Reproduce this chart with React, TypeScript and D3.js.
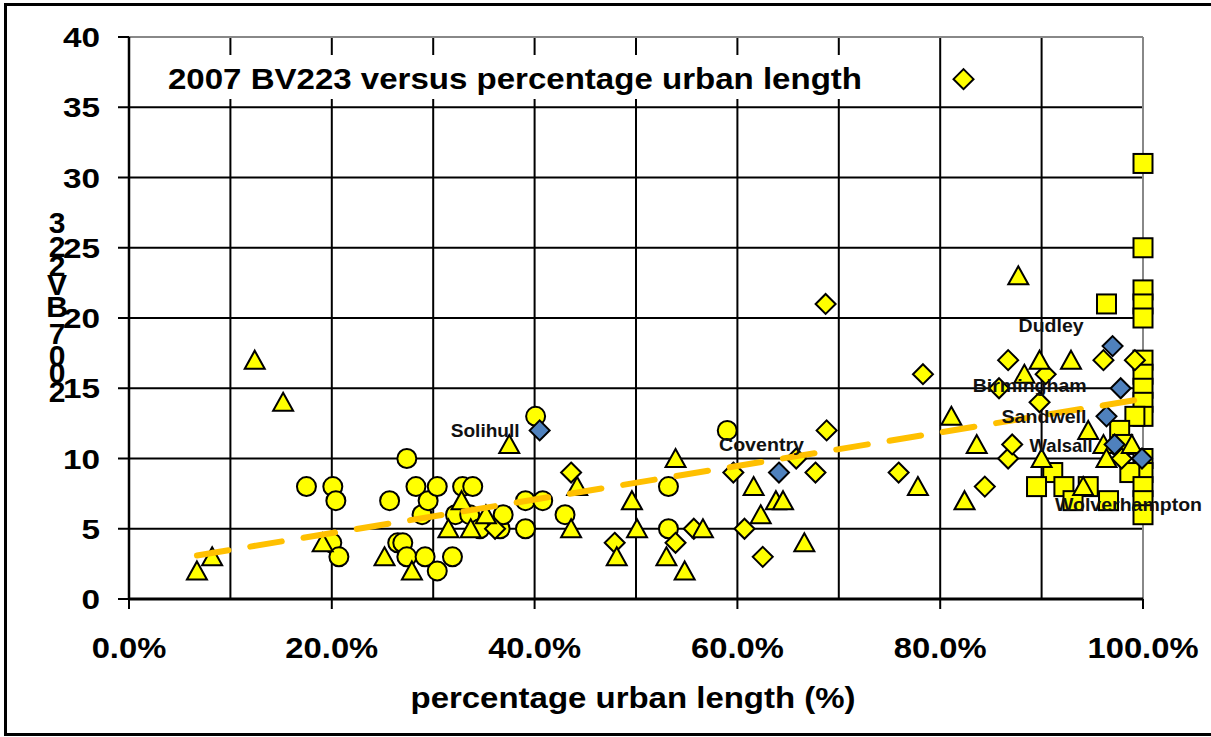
import React from "react";
import * as d3 from "d3";

// percentage urban length (%), BV223 value
const circles = [
  [17.5, 8], [20.1, 8], [20.4, 7], [20.0, 4], [20.7, 3], [25.7, 7], [26.5, 4], [27.0, 4],
  [27.4, 10], [27.4, 3], [28.3, 8], [28.9, 6], [29.2, 3], [29.5, 7], [30.4, 8], [30.4, 2],
  [31.9, 3], [32.2, 6], [32.9, 8], [33.6, 6], [33.9, 8], [34.6, 5], [36.6, 5], [36.9, 6],
  [39.1, 5], [39.1, 7], [40.1, 13], [40.8, 7], [43.0, 6], [53.2, 8], [53.2, 5], [59.0, 12],
];

const squares = [
  [100, 31], [100, 25], [100, 22], [100, 21], [100, 20], [96.4, 21], [100, 17], [100, 16],
  [100, 15], [100, 14], [100, 13], [99.2, 13], [97.7, 12], [98.0, 11], [100, 10], [100, 9],
  [98.7, 9], [91.1, 9], [89.5, 8], [92.2, 8], [94.6, 8], [100, 8], [93.1, 7], [96.6, 7],
  [100, 7], [100, 6],
];

const diamonds = [
  [36.1, 5], [43.6, 9], [47.9, 4], [53.9, 4], [55.7, 5], [59.6, 9], [60.7, 5], [62.5, 3],
  [65.8, 10], [67.7, 9], [68.8, 12], [68.7, 21], [75.9, 9], [78.3, 16], [82.3, 37], [84.4, 8],
  [85.8, 15], [86.7, 17], [86.7, 10], [87.1, 11], [89.8, 14], [90.4, 16], [96.1, 17], [97.9, 10],
  [99.2, 17],
];

const triangles = [
  [6.7, 2], [8.2, 3], [12.4, 17], [15.2, 14], [19.1, 4], [25.2, 3], [27.9, 2], [31.5, 5],
  [32.8, 7], [33.7, 5], [35.2, 6], [37.5, 11], [43.6, 5], [44.2, 8], [48.1, 3], [49.6, 7],
  [50.1, 5], [53.0, 3], [53.9, 10], [54.8, 2], [56.6, 5], [61.6, 8], [62.3, 6], [63.8, 7],
  [64.5, 7], [66.6, 4], [77.8, 8], [81.1, 13], [82.4, 7], [83.6, 11], [87.7, 23], [88.3, 16],
  [89.8, 17], [90.0, 10], [92.9, 17], [94.1, 8], [94.6, 12], [96.1, 11], [96.4, 10], [98.9, 11],
];

const councils = ["Solihull", "Coventry", "Dudley", "Birmingham", "Sandwell", "Walsall", "Wolverhampton"];
const councilX = [40.5, 64.1, 97.0, 97.8, 96.4, 97.2, 99.9];
const councilY = [12, 9, 18, 15, 13, 11, 10];

// trendline end points
const trendX = [6.7, 100];
const trendY = [3.1, 14.25];

const yTicks = [0, 5, 10, 15, 20, 25, 30, 35, 40];
const xGrid = [10, 20, 30, 40, 50, 60, 70, 80, 90];
const xTicks = [0, 20, 40, 60, 80, 100];
const xTickLabels = ["0.0%", "20.0%", "40.0%", "60.0%", "80.0%", "100.0%"];

// the axis title is drawn as stacked characters, as in the original
const yTitleChars = ["3", "2", "2", "V", "B", "7", "0", "0", "2"];
const yTitleBase = [233, 257, 276, 295, 317, 344, 366, 383, 402];

// label placement relative to the point: [dx, dy, width]
const labelPlace = [
  [-89, 7, 69], [-60, -22, 85], [-94, -14, 65], [-148, 4, 114],
  [-105, 7, 85], [-85, 8, 63], [-87, 52, 147],
];

const FONT = "'Liberation Sans', Arial, Helvetica, sans-serif";
const YELLOW = "#FFFF00";
const BLUE = "#4F81BD";

const x = d3.scaleLinear().domain([0, 100]).range([129, 1143]);
const y = d3.scaleLinear().domain([0, 40]).range([599, 37]);

const triPath = "M0,-9.5L10,8.5L-10,8.5Z";
const diaPath = "M0,-10L10,0L0,10L-10,0Z";

const SText = ({ tx, ty, sx = 1, size, anchor = "start", children }) => (
  <g transform={`translate(${tx},${ty}) scale(${sx},1)`}>
    <text textAnchor={anchor} fontSize={size} fontWeight="bold" fontFamily={FONT} fill="#000">
      {children}
    </text>
  </g>
);

export default function App() {
  const trend = d3.line().x((d) => x(d[0])).y((d) => y(d[1]))(
    trendX.map((v, i) => [v, trendY[i]])
  );
  return (
    <svg
      width={1211}
      height={737}
      style={{ position: "absolute", left: 0, top: 0, background: "#fff" }}
    >
      <rect x={0} y={0} width={1211} height={737} fill="#fff" />
      <rect x={5.5} y={4.5} width={1215} height={730} fill="none" stroke="#000" strokeWidth={3} />

      {/* grid */}
      {xGrid.map((v) => (
        <line key={"gx" + v} x1={x(v)} x2={x(v)} y1={y(40)} y2={y(0)} stroke="#000" strokeWidth={2} />
      ))}
      {yTicks.filter((v) => v > 0 && v < 40).map((v) => (
        <line key={"gy" + v} x1={x(0)} x2={x(100)} y1={y(v)} y2={y(v)} stroke="#000" strokeWidth={2} />
      ))}
      <line x1={x(0)} x2={x(100)} y1={y(40)} y2={y(40)} stroke="#888" strokeWidth={2} />
      <line x1={x(100)} x2={x(100)} y1={y(40)} y2={y(0)} stroke="#888" strokeWidth={2} />

      {/* title box */}
      <rect x={158} y={55} width={716} height={44} fill="#fff" />
      <text x={168} y={89} fontSize={30} fontWeight="bold" fontFamily={FONT}
        textLength={694} lengthAdjust="spacingAndGlyphs">
        2007 BV223 versus percentage urban length
      </text>

      {/* axes */}
      <line x1={x(0)} x2={x(0)} y1={y(40)} y2={y(0)} stroke="#000" strokeWidth={2.5} />
      <line x1={x(0)} x2={x(100)} y1={y(0)} y2={y(0)} stroke="#000" strokeWidth={3} />
      {yTicks.map((v) => (
        <g key={"yt" + v}>
          <line x1={118} x2={x(0)} y1={y(v)} y2={y(v)} stroke="#000" strokeWidth={2} />
          <SText tx={100} ty={y(v) + 10} sx={1.19} size={28} anchor="end">{String(v)}</SText>
        </g>
      ))}
      {xTicks.map((v, i) => (
        <g key={"xt" + v}>
          <line x1={x(v)} x2={x(v)} y1={y(0)} y2={y(0) + 10} stroke="#000" strokeWidth={2} />
          <SText tx={x(v)} ty={658} sx={1.13} size={29} anchor="middle">{xTickLabels[i]}</SText>
        </g>
      ))}
      <text x={633} y={708} textAnchor="middle" fontSize={29} fontWeight="bold" fontFamily={FONT}
        textLength={445} lengthAdjust="spacingAndGlyphs">
        percentage urban length (%)
      </text>
      <text textAnchor="middle" fontSize={30} fontWeight="bold" fontFamily={FONT}>
        {yTitleChars.map((c, i) => (
          <tspan key={"yc" + i} x={57} y={yTitleBase[i]}>{c}</tspan>
        ))}
      </text>

      {/* markers */}
      {circles.map((d, i) => (
        <circle key={"c" + i} cx={x(d[0])} cy={y(d[1])} r={9.5} fill={YELLOW} stroke="#000" strokeWidth={2} />
      ))}
      {squares.map((d, i) => (
        <rect key={"s" + i} x={x(d[0]) - 9.5} y={y(d[1]) - 9.5} width={19} height={19}
          fill={YELLOW} stroke="#000" strokeWidth={2} />
      ))}
      {diamonds.map((d, i) => (
        <path key={"d" + i} d={diaPath} transform={`translate(${x(d[0])},${y(d[1])})`}
          fill={YELLOW} stroke="#000" strokeWidth={2} />
      ))}
      {triangles.map((d, i) => (
        <path key={"t" + i} d={triPath} transform={`translate(${x(d[0])},${y(d[1])})`}
          fill={YELLOW} stroke="#000" strokeWidth={2} />
      ))}
      {councils.map((c, i) => (
        <path key={"b" + i} d={diaPath} transform={`translate(${x(councilX[i])},${y(councilY[i])})`}
          fill={BLUE} stroke="#000" strokeWidth={2} />
      ))}

      {/* trendline */}
      <path d={trend} fill="none" stroke="#FFC000" strokeWidth={6}
        strokeDasharray="32 22" strokeLinecap="round" />

      {/* data labels */}
      {councils.map((c, i) => (
        <text key={"l" + i} x={x(councilX[i]) + labelPlace[i][0]} y={y(councilY[i]) + labelPlace[i][1]}
          fontSize={19} fontWeight="bold" fontFamily={FONT} fill="#111"
          textLength={labelPlace[i][2]} lengthAdjust="spacingAndGlyphs">
          {c}
        </text>
      ))}
    </svg>
  );
}
